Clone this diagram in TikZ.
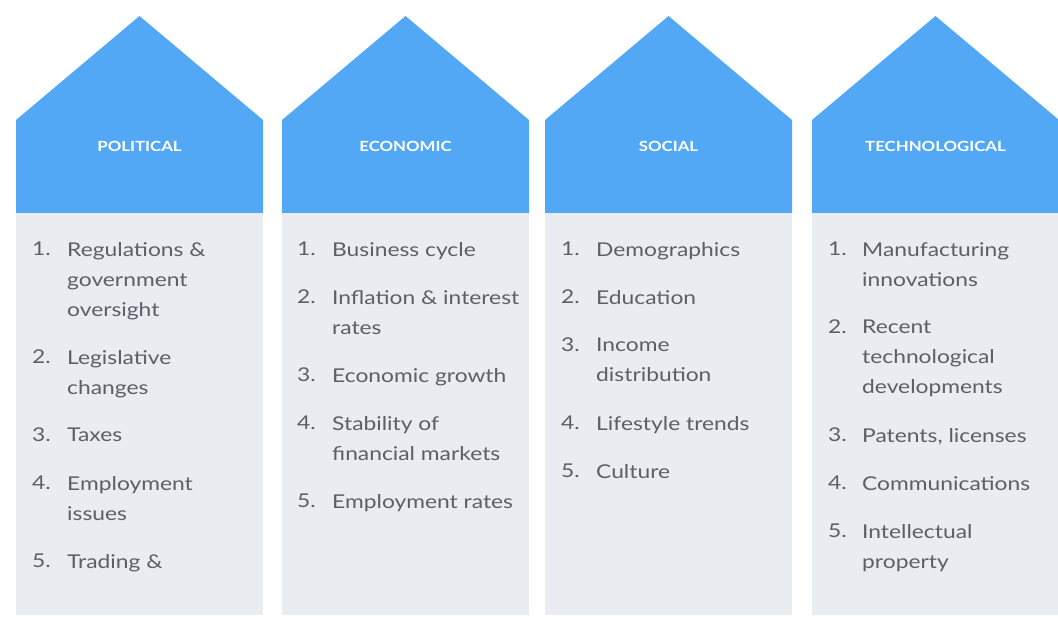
\documentclass[tikz,border=0pt]{standalone}
\usepackage{fontspec}
\setmainfont[FakeStretch=1.2]{Lato}
\definecolor{roofblue}{HTML}{52A8F5}
\definecolor{panelgray}{HTML}{E9EDF2}
\definecolor{itemgray}{HTML}{5C5F66}

\begin{document}
\begin{tikzpicture}[
    x=1pt, y=-1pt,
    roof/.style={fill=roofblue},
    panel/.style={rectangle, fill=panelgray, anchor=north west, inner sep=0pt, minimum width=247pt, minimum height=402pt},
    heading/.style={font=\fontsize{14}{16}\selectfont\bfseries, text=white},
    num/.style={anchor=north west, inner sep=0pt, font=\fontsize{19}{30}\selectfont, text=itemgray},
    item/.style={anchor=north west, inner sep=0pt, align=left, font=\fontsize{19}{30}\selectfont, text=itemgray}
]
\useasboundingbox (0,0) rectangle (1058,624);

% Roofs
\fill[roof] (16,213) -- (16,120) -- (139.5,16) -- (263,120) -- (263,213) -- cycle;
\fill[roof] (282,213) -- (282,120) -- (405.5,16) -- (529,120) -- (529,213) -- cycle;
\fill[roof] (545,213) -- (545,120) -- (668.5,16) -- (792,120) -- (792,213) -- cycle;
\fill[roof] (812,213) -- (812,120) -- (935.5,16) -- (1059,120) -- (1059,213) -- cycle;

% Panels
\node[panel] (polpanel) at (16,213) {};
\node[panel] (ecopanel) at (282,213) {};
\node[panel] (socpanel) at (545,213) {};
\node[panel] (tecpanel) at (812,213) {};

% Headings
\node[heading] (polhead) at (139.5,146) {POLITICAL};
\node[heading] (ecohead) at (405.5,146) {ECONOMIC};
\node[heading] (sochead) at (668.5,146) {SOCIAL};
\node[heading] (techead) at (935.5,146) {TECHNOLOGICAL};

% Political
\node[num] (pol1n) at (32,242) {1.};
\node[item] (pol1) at (67,242) {Regulations \&\\government\\oversight};
\node[num] (pol2n) at (32,350) {2.};
\node[item] (pol2) at (67,350) {Legislative\\changes};
\node[num] (pol3n) at (32,428) {3.};
\node[item] (pol3) at (67,428) {Taxes};
\node[num] (pol4n) at (32,476) {4.};
\node[item] (pol4) at (67,476) {Employment\\issues};
\node[num] (pol5n) at (32,554) {5.};
\node[item] (pol5) at (67,554) {Trading \&};

% Economic
\node[num] (eco1n) at (297,242) {1.};
\node[item] (eco1) at (332,242) {Business cycle};
\node[num] (eco2n) at (297,290) {2.};
\node[item] (eco2) at (332,290) {Inflation \& interest\\rates};
\node[num] (eco3n) at (297,368) {3.};
\node[item] (eco3) at (332,368) {Economic growth};
\node[num] (eco4n) at (297,416) {4.};
\node[item] (eco4) at (332,416) {Stability of\\financial markets};
\node[num] (eco5n) at (297,494) {5.};
\node[item] (eco5) at (332,494) {Employment rates};

% Social
\node[num] (soc1n) at (561,242) {1.};
\node[item] (soc1) at (596,242) {Demographics};
\node[num] (soc2n) at (561,290) {2.};
\node[item] (soc2) at (596,290) {Education};
\node[num] (soc3n) at (561,338) {3.};
\node[item] (soc3) at (596,338) {Income\\distribution};
\node[num] (soc4n) at (561,416) {4.};
\node[item] (soc4) at (596,416) {Lifestyle trends};
\node[num] (soc5n) at (561,464) {5.};
\node[item] (soc5) at (596,464) {Culture};

% Technological
\node[num] (tec1n) at (828,242) {1.};
\node[item] (tec1) at (862,242) {Manufacturing\\innovations};
\node[num] (tec2n) at (828,320) {2.};
\node[item] (tec2) at (862,320) {Recent\\technological\\developments};
\node[num] (tec3n) at (828,428) {3.};
\node[item] (tec3) at (862,428) {Patents, licenses};
\node[num] (tec4n) at (828,476) {4.};
\node[item] (tec4) at (862,476) {Communications};
\node[num] (tec5n) at (828,524) {5.};
\node[item] (tec5) at (862,524) {Intellectual\\property};

\end{tikzpicture}
\end{document}
